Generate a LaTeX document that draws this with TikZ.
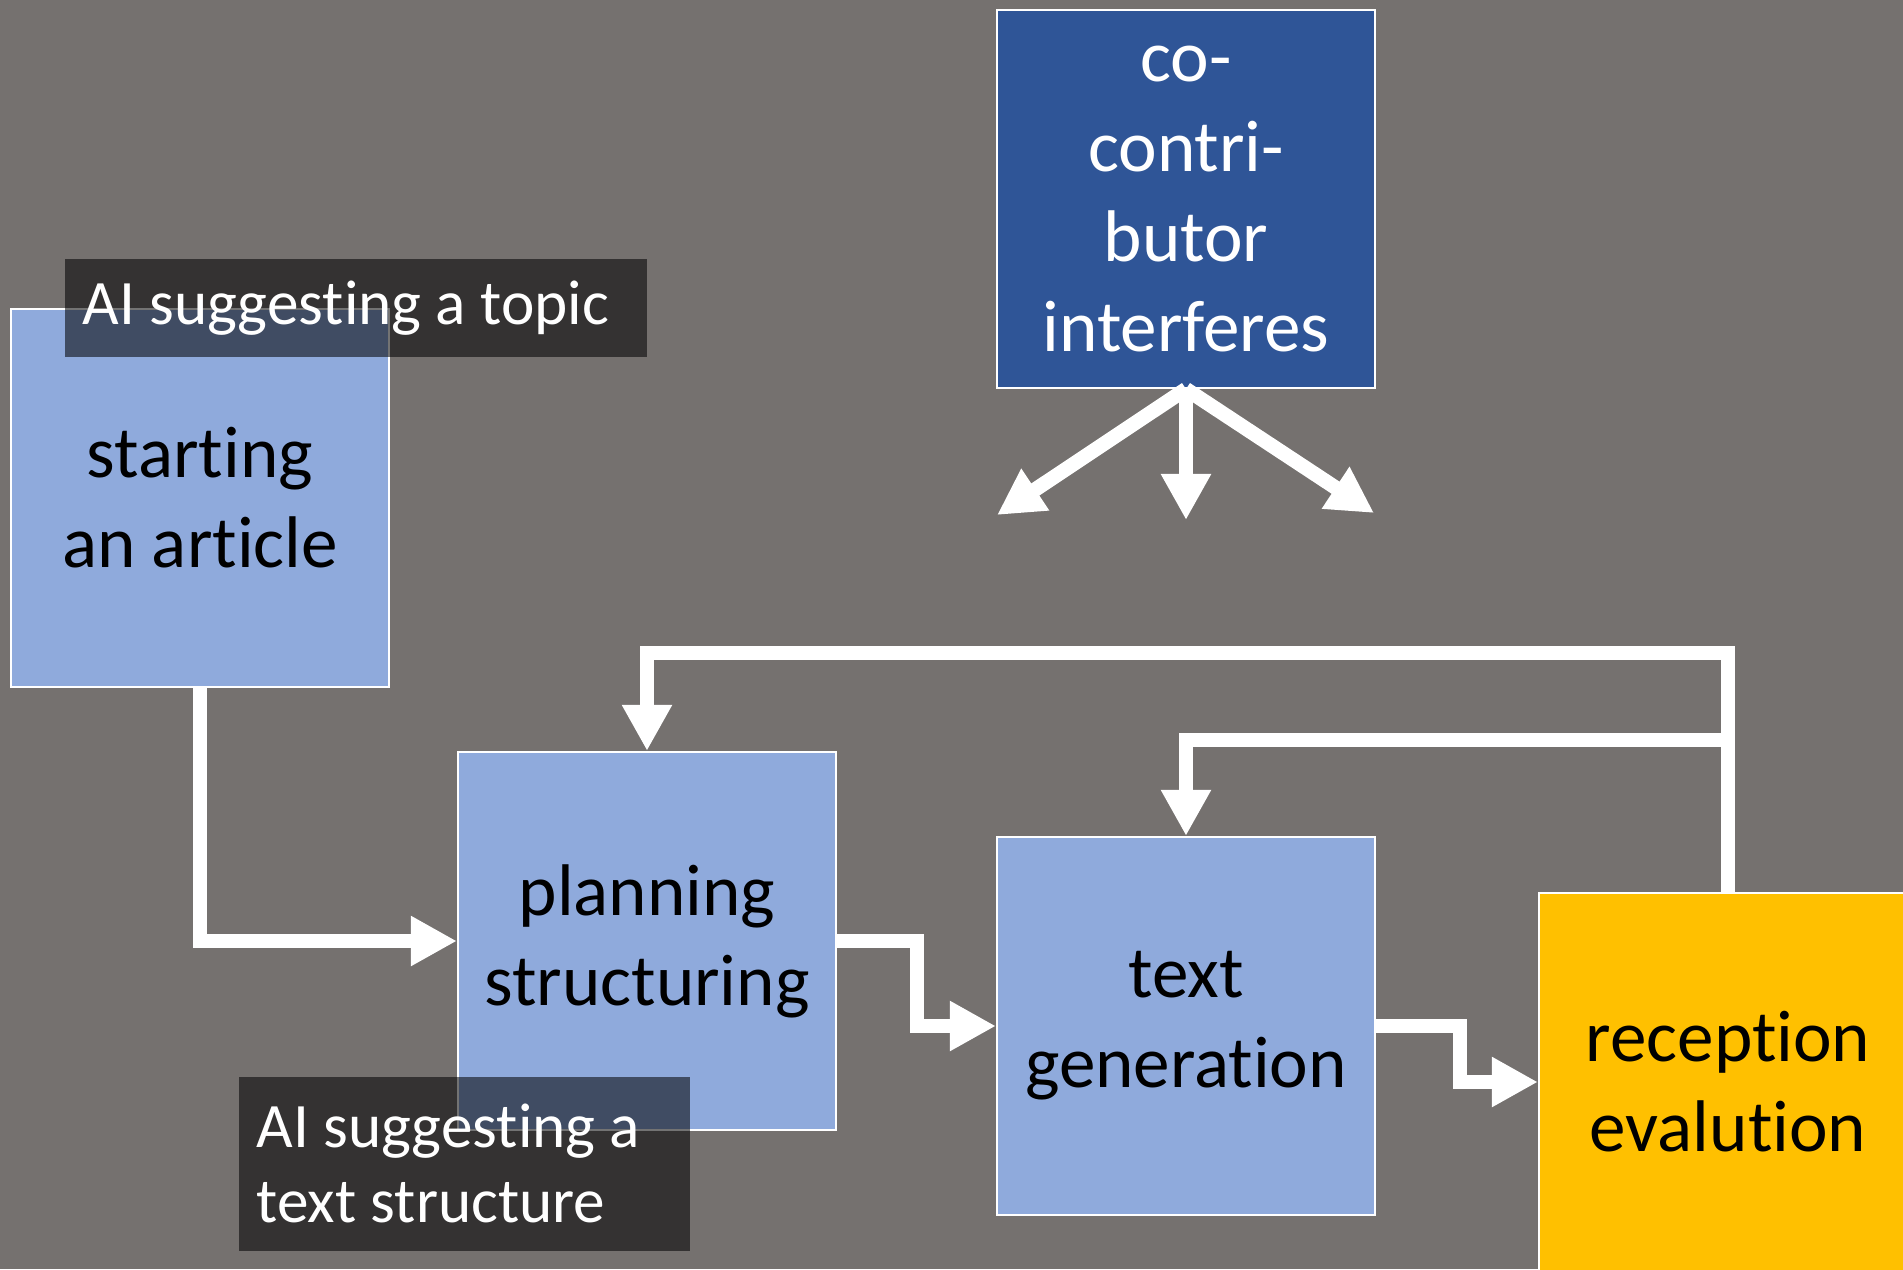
\documentclass[tikz,border=0pt]{standalone}
\usepackage{fontspec}
\setmainfont{Carlito}[Ligatures=NoCommon]
\usetikzlibrary{arrows.meta,positioning}
\definecolor{bggray}{RGB}{117,113,111}
\definecolor{stepblue}{RGB}{143,170,220}
\definecolor{darkblue}{RGB}{47,85,151}
\definecolor{gold}{RGB}{255,192,0}

\begin{document}
\begin{tikzpicture}[
    x=0.01cm, y=-0.01cm,
    stage/.style={rectangle, draw=white, line width=0.02cm, fill=stepblue, minimum size=3.78cm, inner sep=0pt, align=center, font=\fontsize{20.8}{25.6}\selectfont},
    interfere/.style={stage, fill=darkblue, text=white},
    evalbox/.style={stage, fill=gold},
    hint/.style={rectangle, fill=black, fill opacity=0.55, text opacity=1, text=white, align=flush left, inner xsep=0.18cm, inner ysep=0pt, anchor=north west, font=\fontsize{18}{21.3}\selectfont},
    flow/.style={-{Triangle[width=0.47cm,length=0.46cm]}, white, line width=0.145cm}
]

% Canvas
\useasboundingbox (0,0) rectangle (1903,1269);
\clip (0,0) rectangle (1903,1269);
\fill[bggray] (0,0) rectangle (1903,1269);

% Stages
\node[stage] (start) at (200,498) {starting\\an article};
\node[stage] (plan) at (647,941) {planning\\structuring};
\node[stage] (gen) at (1186,1026) {text\\generation};
\node[evalbox] (rec) at (1728,1082) {reception\\evalution};

% Co-contributor
\node[interfere] (coop) at (1186,199) {co-\\contri-\\butor\\interferes};

% Fan targets and feedback levels
\coordinate (fanL) at (997,515);
\coordinate (fanM) at (1186,520);
\coordinate (fanR) at (1374,513);
\coordinate (fbhigh) at (0,653);
\coordinate (fblow) at (0,740);

% Arrows
\draw[flow] (coop.south) -- (fanL);
\draw[flow] (coop.south) -- (fanM);
\draw[flow] (coop.south) -- (fanR);
\draw[flow] (start.south) |- (plan.west);
\draw[flow] (plan.east) -- ++(80,0) |- (gen.west);
\draw[flow] (gen.east) -- ++(84,0) |- (rec.west);
\draw[flow] (rec.north) -- (rec.north |- fbhigh) -| (plan.north);
\draw[flow] (rec.north |- fblow) -| (gen.north);

% AI hints
\node[hint, text width=5.46cm, minimum height=0.98cm] (topic) at (64,258) {AI suggesting a topic};
\node[hint, text width=4.15cm, minimum height=1.74cm] (structure) at (238,1076) {AI suggesting a\\text structure};

\end{tikzpicture}
\end{document}
